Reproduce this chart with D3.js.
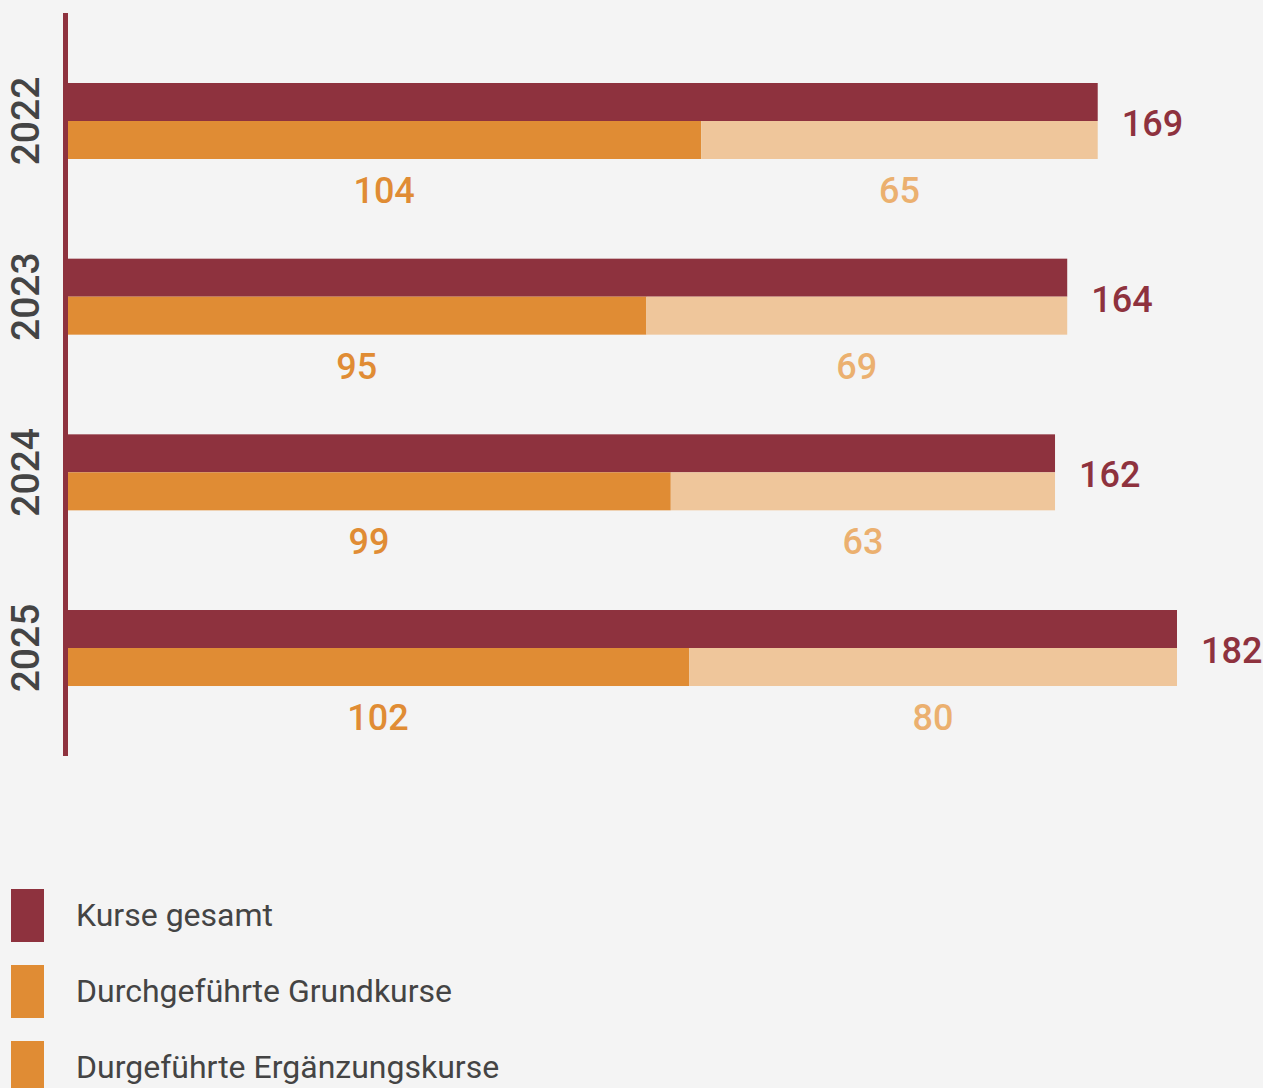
<!DOCTYPE html>
<html><head><meta charset="utf-8">
<script src="https://cdn.jsdelivr.net/npm/d3@7"></script>
<style>
html,body{margin:0;padding:0;background:#f4f4f4;}
svg{display:block;font-family:Roboto,"Noto Sans",sans-serif;}
</style></head>
<body>
<svg id="chart" width="1263" height="1088"></svg>
<script>
const years = ["2022", "2023", "2024", "2025"];
const gesamt = [169, 164, 162, 182];
const grundkurse = [104, 95, 99, 102];
const ergaenzungskurse = [65, 69, 63, 80];
const legendLabels = ["Kurse gesamt", "Durchgeführte Grundkurse", "Durgeführte Ergänzungskurse"];

const cRed = "#8e323e", cOrange = "#e08c34", cLight = "#efc69b", cLightText = "#ebb06f", cText = "#444444";

const svg = d3.select("#chart");
svg.append("rect").attr("width", 1263).attr("height", 1088).attr("fill", "#f4f4f4");

const x = d3.scaleLinear().domain([0, 182]).range([67, 1177]);
const y = d3.scaleBand().domain(years).range([83, 83 + 4 * 175.67]).padding(0);
const barH = 38;

const data = years.map((yr, i) => ({yr, total: gesamt[i], g: grundkurse[i], e: ergaenzungskurse[i]}));

const grp = svg.selectAll("g.year").data(data).join("g").attr("class", "year");

grp.append("rect").attr("x", x(0)).attr("y", d => y(d.yr)).attr("height", barH)
  .attr("width", d => x(d.total) - x(0)).attr("fill", cRed);
grp.append("rect").attr("x", x(0)).attr("y", d => y(d.yr) + barH).attr("height", barH)
  .attr("width", d => x(d.g) - x(0)).attr("fill", cOrange);
grp.append("rect").attr("x", d => x(d.g)).attr("y", d => y(d.yr) + barH).attr("height", barH)
  .attr("width", d => x(d.g + d.e) - x(d.g)).attr("fill", cLight);

grp.append("text").attr("x", d => x(d.total) + 24).attr("y", d => y(d.yr) + barH + 15)
  .attr("fill", cRed).attr("font-size", 36).attr("font-weight", 500).text(d => d.total);
grp.append("text").attr("x", d => (x(0) + x(d.g)) / 2).attr("y", d => y(d.yr) + 2 * barH + 44)
  .attr("text-anchor", "middle").attr("fill", cOrange).attr("font-size", 36).attr("font-weight", 500).text(d => d.g);
grp.append("text").attr("x", d => (x(d.g) + x(d.g + d.e)) / 2).attr("y", d => y(d.yr) + 2 * barH + 44)
  .attr("text-anchor", "middle").attr("fill", cLightText).attr("font-size", 36).attr("font-weight", 500).text(d => d.e);

grp.append("text").attr("transform", d => `translate(39,${y(d.yr) + barH}) rotate(-90)`)
  .attr("text-anchor", "middle").attr("fill", cText).attr("font-size", 39).attr("font-weight", 500).text(d => d.yr);

// axis line
svg.append("rect").attr("x", 63).attr("y", 13).attr("width", 5).attr("height", 743).attr("fill", cRed);

// legend
const legColors = [cRed, cOrange, cOrange];
const leg = svg.selectAll("g.leg").data(legendLabels).join("g").attr("class", "leg")
  .attr("transform", (d, i) => `translate(0,${889 + i * 76})`);
leg.append("rect").attr("x", 11).attr("y", 0).attr("width", 33).attr("height", 53).attr("fill", (d, i) => legColors[i]);
leg.append("text").attr("x", 76).attr("y", 37).attr("fill", cText).attr("font-size", 32).text(d => d);
</script>
</body></html>
